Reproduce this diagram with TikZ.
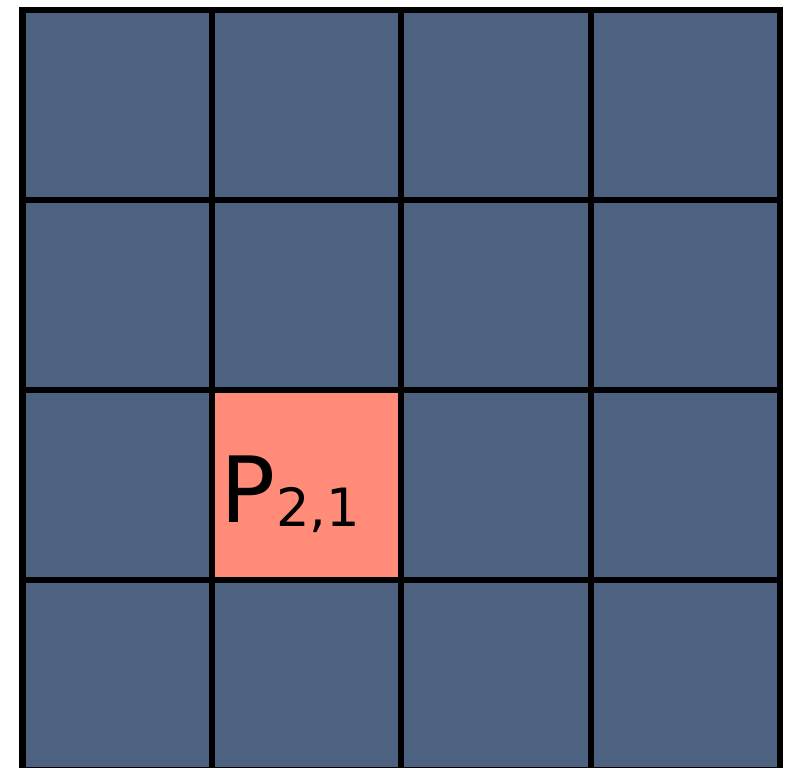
\documentclass[tikz,border=0pt]{standalone}
\usepackage{fontspec}
\setmainfont{DejaVu Sans}
\usetikzlibrary{calc}
\definecolor{tileblue}{RGB}{76,98,128}
\definecolor{tilesalmon}{RGB}{255,139,120}

\begin{document}
\begin{tikzpicture}[
  every node/.style={inner sep=0pt, outer sep=0pt},
  tile/.style={draw,line width=1.8pt,minimum width=1.894cm,minimum height=1.9cm}]
\useasboundingbox (0,0) rectangle (7.99,7.67);
\clip (0,0) rectangle (7.99,7.67);
% 4x4 grid of tiles, tile (2,1) highlighted
\foreach \r in {0,...,3}
  \foreach \c in {0,...,3}{
    \ifnum\numexpr\r*4+\c\relax=9 \def\tilecol{tilesalmon}\else\def\tilecol{tileblue}\fi
    \node[tile,fill=\tilecol] (cell-\r-\c) at ({0.225+(\c+0.5)*1.894},{7.57-(\r+0.5)*1.9}) {};
  }
\node[anchor=base west,font=\fontsize{26}{26}\selectfont] (plabel)
  at ($(cell-2-1.west)+(0.09,-0.38)$) {P\raisebox{-0.04cm}{\fontsize{15}{15}\selectfont 2,1}};
\end{tikzpicture}
\end{document}
